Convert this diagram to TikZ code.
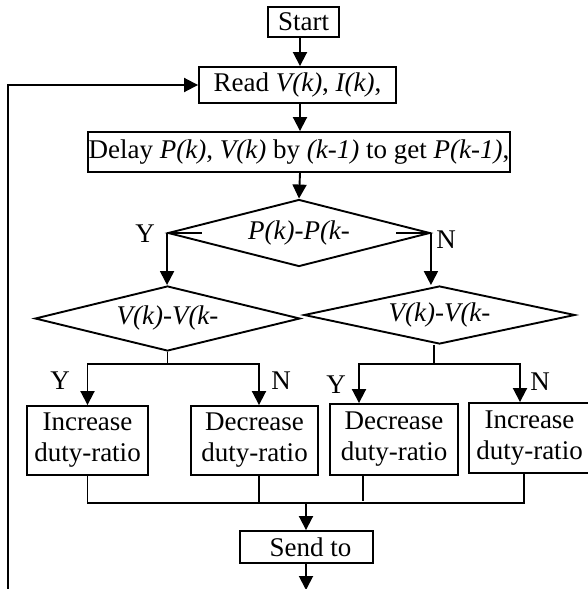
\documentclass[tikz,border=0pt]{standalone}
\usepackage{fontspec}
\setmainfont{Liberation Serif}
\usetikzlibrary{shapes.geometric,arrows.meta,calc}
\begin{document}
\begin{tikzpicture}[x=1pt,y=-1pt,
  every node/.style={font=\fontsize{27}{31}\selectfont},
  box/.style={draw,line width=1.9pt,inner sep=0pt,align=center},
  dia/.style={draw,diamond,line width=1.9pt,inner sep=0pt},
  lbl/.style={inner sep=0pt},
  conn/.style={line width=1.7pt},
  arr/.style={line width=1.9pt,-{Triangle[length=14pt,width=14pt]}}]
\useasboundingbox (0,0) rectangle (587,589);
% boxes
\node[box,minimum width=71pt,minimum height=30pt] (start) at (303.5,22) {Start};
\node[box,minimum width=197pt,minimum height=36pt] (read) at (297.5,85) {Read \textit{V(k)}, \textit{I(k)},};
\node[box,minimum width=422pt,minimum height=40pt] (delay) at (299,152) {Delay \textit{P(k)}, \textit{V(k)} by \textit{(k-1)} to get \textit{P(k-1)},};
\node[dia,minimum width=262pt,minimum height=67pt,aspect=3.9] (d1) at (299,233) {\textit{P(k)-P(k-}};
\node[dia,minimum width=265pt,minimum height=65pt,aspect=4.1] (d2) at (167.5,318.5) {\textit{V(k)-V(k-}};
\node[dia,minimum width=271pt,minimum height=58pt,aspect=4.7] (d3) at (439.5,315) {\textit{V(k)-V(k-}};
\node[box,minimum width=121pt,minimum height=69pt] (b1) at (87.5,440.5) {Increase\\duty-ratio};
\node[box,minimum width=127pt,minimum height=69pt] (b2) at (254.5,440.5) {Decrease\\duty-ratio};
\node[box,minimum width=128pt,minimum height=71pt] (b3) at (394,439.5) {Decrease\\duty-ratio};
\node[box,minimum width=121pt,minimum height=70pt] (b4) at (529.5,438) {Increase\\duty-ratio};
\node[box,minimum width=133pt,minimum height=32pt] (send) at (306.5,547) {\hspace*{8pt}Send to};
% labels
\node[lbl] (y1) at (145,233.5) {Y};
\node[lbl] (n1) at (446,240) {N};
\node[lbl] (y2) at (60,381) {Y};
\node[lbl] (n2) at (281,381) {N};
\node[lbl] (y3) at (336,385) {Y};
\node[lbl] (n3) at (540,382) {N};
% coordinates
\coordinate (ax) at (300,0);
\coordinate (loopbot) at (8,592);
\coordinate (j2) at (167.5,364);
\coordinate (j3) at (434,364);
\coordinate (m) at (306,503);
\coordinate (endpt) at (306,590);
% main connectors
\draw[arr] (start.south -| ax) -- (read.north -| ax);
\draw[arr] (read.south -| ax) -- (delay.north -| ax);
\draw[arr] (delay.south -| ax) -- (d1.north);
\draw[arr] (loopbot) |- (read.west);
% first decision
\draw[conn] (d1.west) -- ++(35,0);
\draw[conn] (d1.east) -- ++(-35,0);
\draw[arr] (d1.west) -- (d1.west |- d2.north);
\draw[arr] (d1.east) -- (d1.east |- d3.north);
% second decisions
\draw[conn] (d2.south) -- (j2);
\draw[arr] (j2) -| (b1.north);
\draw[arr] (j2) -| ([xshift=4.5pt]b2.north);
\draw[conn] (d3.south -| j3) -- (j3);
\draw[arr] (j3) -| ([xshift=-35pt]b3.north);
\draw[arr] (j3) -| ([xshift=-9.5pt]b4.north);
% merge
\draw[conn] (b1.south) |- (m);
\draw[conn] ([xshift=4.5pt]b2.south) -- ([xshift=4.5pt]b2.south |- m);
\draw[conn] ([xshift=-31pt]b3.south) -- ([xshift=-31pt,yshift=2pt]b3.south |- m);
\draw[conn] ([xshift=-5.5pt]b4.south) |- (m);
\draw[arr] (m) -- (send.north -| m);
\draw[arr] (send.south -| m) -- (endpt);
\end{tikzpicture}
\end{document}
